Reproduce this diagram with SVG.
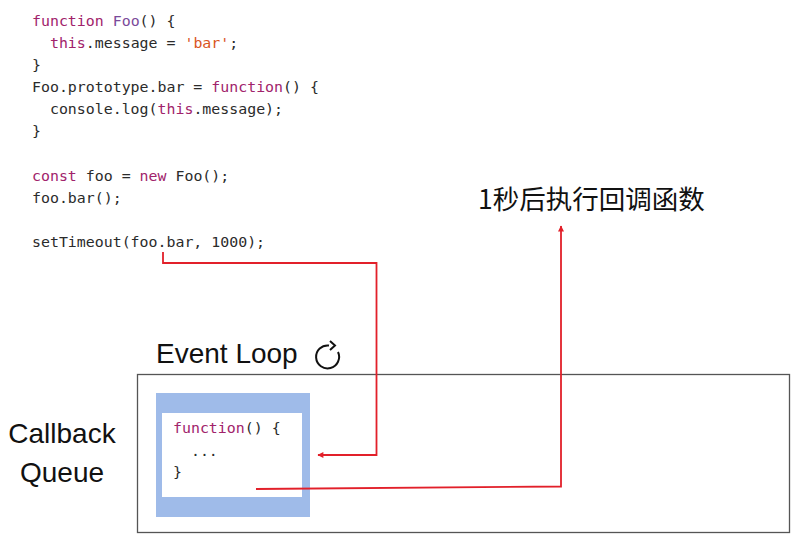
<svg xmlns="http://www.w3.org/2000/svg" width="800" height="547" viewBox="0 0 800 547">
<style>
.code{font-family:"DejaVu Sans Mono","Liberation Mono",monospace;font-size:14.9px;fill:#2b2b2b;white-space:pre}
.kw{fill:#a1236b}
.fn{fill:#7a4a9a}
.str{fill:#d9541e}
.lbl{font-family:"Liberation Sans","Noto Sans",sans-serif;font-size:28px;fill:#111}
.cjk{font-family:"Noto Sans CJK SC","Noto Sans",sans-serif;font-size:26.5px;fill:#111}
.wire{fill:none;stroke:#e2202a;stroke-width:1.8}
</style>
<defs>
<marker id="ah" viewBox="0 0 10 10" refX="9" refY="5" markerWidth="7" markerHeight="6" orient="auto" markerUnits="userSpaceOnUse">
<path d="M0,0 L10,5 L0,10 z" fill="#e2202a"/>
</marker>
</defs>
<rect width="800" height="547" fill="#fff"/>
<g id="code">
<text class="code" x="32" y="26" xml:space="preserve"><tspan class="kw">function</tspan> <tspan class="fn">Foo</tspan>() {</text>
<text class="code" x="32" y="48" xml:space="preserve">  <tspan class="kw">this</tspan>.message = <tspan class="str">'bar'</tspan>;</text>
<text class="code" x="32" y="70">}</text>
<text class="code" x="32" y="92" xml:space="preserve">Foo.prototype.bar = <tspan class="kw">function</tspan>() {</text>
<text class="code" x="32" y="114" xml:space="preserve">  console.log(<tspan class="kw">this</tspan>.message);</text>
<text class="code" x="32" y="136">}</text>
<text class="code" x="32" y="181" xml:space="preserve"><tspan class="kw">const</tspan> foo = <tspan class="kw">new</tspan> Foo();</text>
<text class="code" x="32" y="203">foo.bar();</text>
<text class="code" x="32" y="247">setTimeout(foo.bar, 1000);</text>
</g>
<g id="event-loop">
<rect x="137.5" y="374.5" width="652" height="158" fill="#fff" stroke="#555" stroke-width="1.3"/>
<text class="lbl" x="156" y="363">Event Loop</text>
<path d="M338,352 A11.5,11.5 0 1 1 329,345.5" fill="none" stroke="#111" stroke-width="2"/>
<path d="M330,341 L335,345.5 L330,350" fill="none" stroke="#111" stroke-width="2"/>
</g>
<g id="callback-label">
<text class="lbl" x="62" y="443" text-anchor="middle">Callback</text>
<text class="lbl" x="62" y="482" text-anchor="middle">Queue</text>
</g>
<g id="callback-queue">
<rect x="156" y="393" width="154" height="124" fill="#9fbbe9"/>
<rect x="162" y="413" width="140" height="84" fill="#fff"/>
<text class="code" x="173" y="433"><tspan class="kw">function</tspan>() {</text>
<text class="code" x="173" y="456" xml:space="preserve">  ...</text>
<text class="code" x="173" y="477">}</text>
</g>
<g id="result-label">
<text class="cjk" x="478" y="209">1秒后执行回调函数</text>
</g>
<g id="connectors">
<path class="wire" d="M163,252 L163,263 L376.5,263 L376.5,455 L318,455" marker-end="url(#ah)"/>
<path class="wire" d="M256,489 L561,486.5 L561,226" marker-end="url(#ah)"/>
</g>
</svg>
